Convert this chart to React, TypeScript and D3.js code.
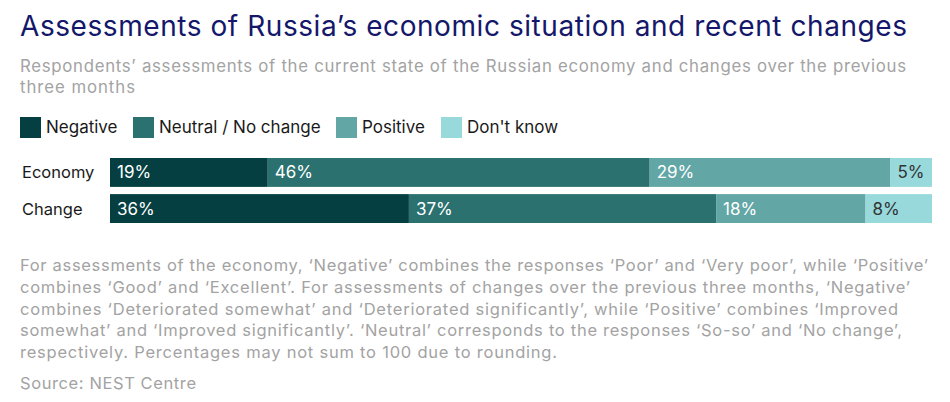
import { useEffect, useRef } from "react";
import * as d3 from "d3";

const categories = ["Negative", "Neutral / No change", "Positive", "Don't know"];
const rows = ["Economy", "Change"];
const economyValues = [19, 46, 29, 5];
const changeValues = [36, 37, 18, 8];
const colors = ["#053f42", "#2b716f", "#62a6a6", "#98d9dc"];
const labelColors = ["#ffffff", "#ffffff", "#ffffff", "#333333"];

const title = "Assessments of Russia\u2019s economic situation and recent changes";
const subtitle = [
  "Respondents\u2019 assessments of the current state of the Russian economy and changes over the previous",
  "three months",
];
const notes = [
  "For assessments of the economy, \u2018Negative\u2019 combines the responses \u2018Poor\u2019 and \u2018Very poor\u2019, while \u2018Positive\u2019",
  "combines \u2018Good\u2019 and \u2018Excellent\u2019. For assessments of changes over the previous three months, \u2018Negative\u2019",
  "combines \u2018Deteriorated somewhat\u2019 and \u2018Deteriorated significantly\u2019, while \u2018Positive\u2019 combines \u2018Improved",
  "somewhat\u2019 and \u2018Improved significantly\u2019. \u2018Neutral\u2019 corresponds to the responses \u2018So-so\u2019 and \u2018No change\u2019,",
  "respectively. Percentages may not sum to 100 due to rounding.",
];
const source = "Source: NEST Centre";

// measured text widths in the reference, used to match the wider original typeface
const subtitleWidths = [886, 115];
const noteWidths = [908, 890, 878, 882, 537];

const WIDTH = 950;
const HEIGHT = 402;
const FONT = "Inter, Roboto, sans-serif";

export default function App() {
  const svgRef = useRef<SVGSVGElement>(null);

  useEffect(() => {
    if (!svgRef.current) return;
    const svg = d3.select(svgRef.current);
    svg.selectAll("*").remove();
    svg.style("font-family", FONT);

    // Title + subtitle
    svg
      .append("text")
      .attr("x", 20)
      .attr("y", 36)
      .attr("fill", "#14176a")
      .attr("font-size", 28)
      .attr("textLength", 887)
      .attr("lengthAdjust", "spacing")
      .text(title);

    subtitle.forEach((line, i) => {
      svg
        .append("text")
        .attr("x", 20)
        .attr("y", 72 + i * 20.5)
        .attr("fill", "#a3a3a3")
        .attr("font-size", 16.8)
        .attr("textLength", subtitleWidths[i])
        .attr("lengthAdjust", "spacing")
        .text(line);
    });

    // Legend
    const legendX = [20, 133, 336, 441];
    categories.forEach((c, i) => {
      const g = svg.append("g").attr("transform", `translate(${legendX[i]},117)`);
      g.append("rect").attr("width", 21).attr("height", 21).attr("fill", colors[i]);
      g.append("text")
        .attr("x", 26)
        .attr("y", 16)
        .attr("fill", "#1a1a1a")
        .attr("font-size", 17)
        .text(c);
    });

    // Bars
    const data = [economyValues, changeValues];
    const x = d3.scaleLinear().domain([0, 99]).range([110, 932]);
    const y = d3.scaleBand().domain(rows).range([158, 223]).paddingInner(0.2);

    rows.forEach((r, ri) => {
      const vals = data[ri];
      const total = d3.sum(vals);
      const xr = d3.scaleLinear().domain([0, total]).range(x.range());
      const starts = d3.cumsum([0, ...vals]);

      svg
        .append("text")
        .attr("x", 22)
        .attr("y", (y(r) ?? 0) + y.bandwidth() / 2 + 6)
        .attr("fill", "#1a1a1a")
        .attr("font-size", 16.5)
        .text(r);

      const seg = svg
        .append("g")
        .selectAll("g")
        .data(vals)
        .enter()
        .append("g");

      seg
        .append("rect")
        .attr("x", (_, i) => xr(starts[i]))
        .attr("y", y(r) ?? 0)
        .attr("width", (d, i) => xr(starts[i] + d) - xr(starts[i]))
        .attr("height", y.bandwidth())
        .attr("fill", (_, i) => colors[i]);

      seg
        .append("text")
        .attr("x", (_, i) => xr(starts[i]) + 7)
        .attr("y", (y(r) ?? 0) + y.bandwidth() / 2 + 6)
        .attr("fill", (_, i) => labelColors[i])
        .attr("font-size", 17)
        .text((d) => `${d}%`);
    });

    // Notes
    notes.forEach((line, i) => {
      svg
        .append("text")
        .attr("x", 20)
        .attr("y", 271 + i * 21.8)
        .attr("fill", "#a3a3a3")
        .attr("font-size", 16.5)
        .attr("textLength", noteWidths[i])
        .attr("lengthAdjust", "spacing")
        .text(line);
    });

    svg
      .append("text")
      .attr("x", 20)
      .attr("y", 389)
      .attr("fill", "#a3a3a3")
      .attr("font-size", 16.5)
      .attr("textLength", 176)
      .attr("lengthAdjust", "spacing")
      .text(source);
  }, []);

  return (
    <svg
      ref={svgRef}
      width={WIDTH}
      height={HEIGHT}
      style={{ position: "absolute", left: 0, top: 0, background: "#fff" }}
    ></svg>
  );
}
